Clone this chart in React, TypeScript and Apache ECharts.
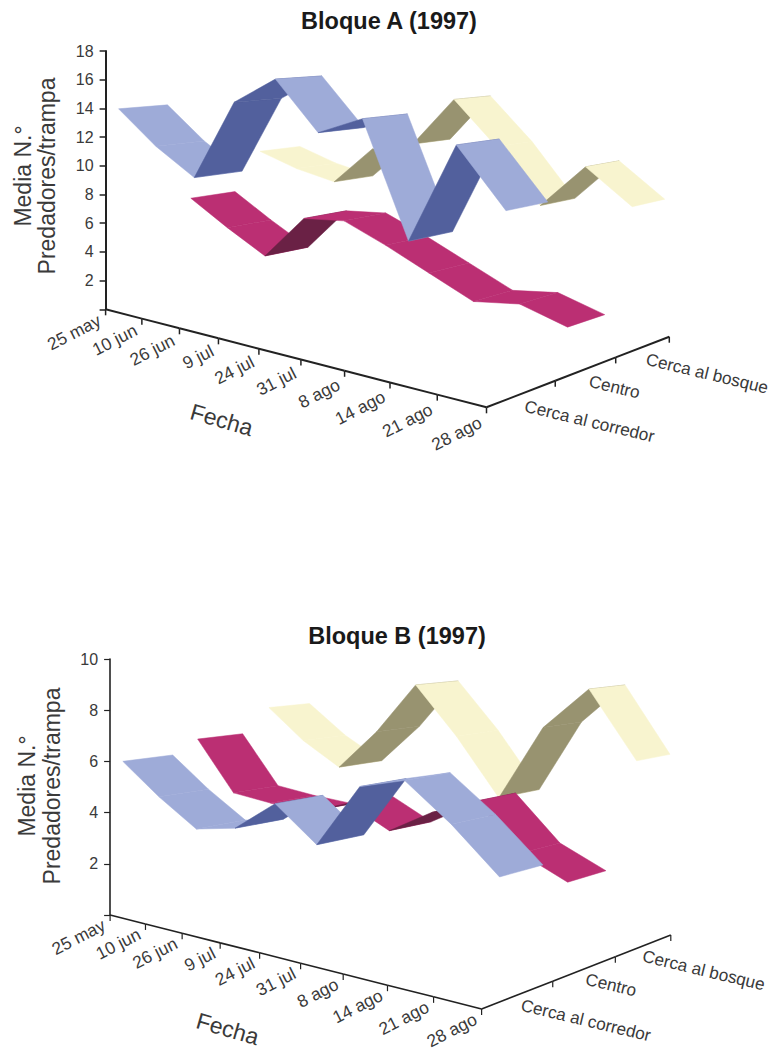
import React, { useEffect, useRef } from "react";
import * as echarts from "echarts";

const dates = ["25 may", "10 jun", "26 jun", "9 jul", "24 jul", "31 jul", "8 ago", "14 ago", "21 ago", "28 ago"];
const rows = ["Cerca al corredor", "Centro", "Cerca al bosque"];

const blockAFront = [13.9, 11.7, 10.0, 15.5, 17.4, 14.3, 15.6, 8.4, 14.8, 11.3];
const blockACenter = [6.85, 5.2, 3.7, 6.9, 7.25, 6.1, 4.8, 3.5, 3.95, 3.1];
const blockABack = [9.7, 8.8, 8.25, 11.2, 11.95, 15.6, 12.6, 8.9, 12.06, 9.8];

const blockBFront = [5.94, 4.8, 3.83, 4.14, 5.32, 4.1, 6.45, 6.91, 5.67, 4.18];
const blockBCenter = [6.47, 4.49, 4.33, 4.25, 4.84, 4.05, 5.01, 5.69, 4.06, 3.32];
const blockBBack = [7.48, 6.26, 5.35, 7.06, 9.2, 7.3, 5.05, 8.05, 9.74, 7.17];

const ticksA = 18;
const ticksB = 10;

const FONT = "'Liberation Sans', Arial, sans-serif";
const TEXT = "#3a3a3a";
const AXIS = "#222";
const rowColors = [
  { light: "#9eabd8", dark: "#52609d" },
  { light: "#bb2f73", dark: "#6a2145" },
  { light: "#f8f4cf", dark: "#989370" },
];

const makeProjection = (g: any) => {
  const wt = -0.158;
  const wd = 0.173;
  const Ux = g.C[0] * (1 + wt) - g.O[0];
  const Uy = g.C[1] * (1 + wt) - g.O[1];
  const Vx = g.E[0] * (1 + wt + wd) - g.O[0] - Ux;
  const Vy = g.E[1] * (1 + wt + wd) - g.O[1] - Uy;
  const Zy = (g.O[1] - g.topY) / g.maxV;
  return (t: number, d: number, v: number) => {
    const w = 1 + wt * t + wd * d;
    return [(g.O[0] + t * Ux + d * Vx) / w, (g.O[1] + t * Uy + d * Vy - v * Zy) / w];
  };
};

const panels = [
  {
    title: "Bloque A (1997)",
    titleX: 384,
    titleY: 4,
    O: [105.6, 309.3],
    C: [486.5, 407.3],
    E: [669.3, 336.7],
    topY: 51,
    maxV: ticksA,
    series: [blockAFront, blockACenter, blockABack],
    bands: [[0.052, 0.09, 1], [0.36, 0.398, 1], [0.687, 0.765, 1]],
    nameY: 176,
    nameX: [23, 47],
    fecha: [191, 411, -16],
    lw: 2,
    dateDrop: [10, 4],
  },
  {
    title: "Bloque B (1997)",
    titleX: 392,
    titleY: 619,
    O: [110.1, 915],
    C: [481.6, 1009],
    E: [670.8, 935],
    topY: 659,
    maxV: ticksB,
    series: [blockBFront, blockBCenter, blockBBack],
    bands: [[0.05, 0.08, 1], [0.363, 0.409, 1], [0.694, 0.79, 2]],
    nameY: 786,
    nameX: [27, 52],
    fecha: [197, 1020, -16],
    lw: 1.6,
    dateDrop: [9, 0],
  },
];

const BAND = 0.205;

const buildOption = () => {
  const series: any[] = [];
  const yAxes: any[] = [
    { type: "value", gridIndex: 0, min: 0, max: 1049, inverse: true, show: false },
  ];
  const xAxes: any[] = [{ type: "value", gridIndex: 0, min: 0, max: 770, show: false }];
  const grids: any[] = [{ left: 0, top: 0, width: 770, height: 1049 }];
  const titles: any[] = [];

  panels.forEach((p, pi) => {
    const project = makeProjection(p);
    const gi = pi + 1;
    grids.push({ left: p.O[0], top: p.topY, width: 10, height: p.O[1] - p.topY });
    xAxes.push({ type: "value", gridIndex: gi, show: false, min: 0, max: 1 });
    yAxes.push({
      type: "value",
      gridIndex: gi,
      min: 0,
      max: p.maxV,
      interval: 2,
      axisLine: { show: true, lineStyle: { color: AXIS, width: p.lw } },
      axisTick: { show: true, length: 6, lineStyle: { color: AXIS, width: p.lw * 0.75 } },
      splitLine: { show: false },
      axisLabel: {
        color: TEXT,
        fontFamily: FONT,
        fontSize: 16,
        margin: 12,
        formatter: (v: number) => (v === 0 ? "" : String(v)),
      },
    });
    titles.push({
      text: p.title,
      left: p.titleX,
      top: p.titleY,
      textAlign: "center",
      textStyle: { fontFamily: FONT, fontSize: 23.5, fontWeight: "bold", color: "#1a1a1a" },
    });
    series.push({
      type: "line",
      xAxisIndex: gi,
      yAxisIndex: gi,
      data: [],
      silent: true,
    });

    // Ribbons: back row first, each from the far date to the near date.
    [2, 1, 0].forEach((r) => {
      const values = p.series[r];
      series.push({
        type: "custom",
        name: `${p.title} ${rows[r]}`,
        xAxisIndex: 0,
        yAxisIndex: 0,
        clip: false,
        silent: true,
        data: values.slice(0, -1).map((v, i) => [i, v, values[i + 1]]),
        renderItem: (_: any, api: any) => {
          const i = api.value(0);
          const a = api.value(1);
          const b = api.value(2);
          const t0 = i / (dates.length - 1);
          const t1 = (i + 1) / (dates.length - 1);
          const [d0, d1, bow] = p.bands[r];
          const front = (t: number) => d0 + (d1 - d0) * Math.pow(t, bow);
          const back = (t: number) => d0 + (d1 - d0) * t + BAND;
          const pts = [
            project(t0, front(t0), a),
            project(t1, front(t1), b),
            project(t1, back(t1), b),
            project(t0, back(t0), a),
          ].map((q) => api.coord(q));
          let area = 0;
          pts.forEach((q: number[], k: number) => {
            const n = pts[(k + 1) % 4];
            area += q[0] * n[1] - n[0] * q[1];
          });
          const color = area < 0 ? rowColors[r].light : rowColors[r].dark;
          return {
            type: "polygon",
            shape: { points: pts },
            style: { fill: color, stroke: color, lineWidth: 0.5 },
          };
        },
      });
    });

    // Floor axes with their ticks and labels.
    const frameStyle = { stroke: AXIS, lineWidth: p.lw };
    series.push({
      type: "custom",
      name: `${p.title} fecha`,
      xAxisIndex: 0,
      yAxisIndex: 0,
      clip: false,
      silent: true,
      data: dates.map((_, i) => [i]),
      renderItem: (_: any, api: any) => {
        const i = api.value(0);
        const t = i / (dates.length - 1);
        const a = api.coord(project(t, 0, 0));
        const children: any[] = [
          { type: "line", shape: { x1: a[0], y1: a[1], x2: a[0], y2: a[1] + 6 }, style: { ...frameStyle, lineWidth: p.lw * 0.75 } },
          {
            type: "text",
            x: a[0] - 6,
            y: a[1] + p.dateDrop[0] + p.dateDrop[1] * t,
            rotation: (27 * Math.PI) / 180,
            style: { text: dates[i], align: "right", verticalAlign: "middle", fontFamily: FONT, fontSize: 17.5, fill: TEXT },
          },
        ];
        if (i < dates.length - 1) {
          const b = api.coord(project((i + 1) / (dates.length - 1), 0, 0));
          children.push({ type: "line", shape: { x1: a[0], y1: a[1], x2: b[0], y2: b[1] }, style: frameStyle });
        }
        return { type: "group", children };
      },
    });
    series.push({
      type: "custom",
      name: `${p.title} zona`,
      xAxisIndex: 0,
      yAxisIndex: 0,
      clip: false,
      silent: true,
      data: rows.map((_, i) => [i]),
      renderItem: (_: any, api: any) => {
        const i = api.value(0);
        const a = api.coord(project(1, i / 3, 0));
        const b = api.coord(project(1, (i + 1) / 3, 0));
        const m = api.coord(project(1, (i + 0.5) / 3, 0));
        return {
          type: "group",
          children: [
            { type: "line", shape: { x1: a[0], y1: a[1], x2: b[0], y2: b[1] }, style: frameStyle },
            { type: "line", shape: { x1: b[0], y1: b[1], x2: b[0], y2: b[1] + 6 }, style: { ...frameStyle, lineWidth: p.lw * 0.75 } },
            {
              type: "text",
              x: m[0] + 3 - (pi === 1 ? i * 2 : 0),
              y: m[1] + 12 - (pi === 1 ? 2 : 0),
              rotation: (-13.5 * Math.PI) / 180,
              style: { text: rows[i], align: "left", verticalAlign: "middle", fontFamily: FONT, fontSize: 17.2, fill: TEXT },
            },
          ],
        };
      },
    });
    // Axis names.
    series.push({
      type: "custom",
      name: `${p.title} nombres`,
      xAxisIndex: 0,
      yAxisIndex: 0,
      clip: false,
      silent: true,
      data: [[0]],
      renderItem: () => ({
        type: "group",
        children: [
          {
            type: "text",
            x: p.nameX[0],
            y: p.nameY,
            rotation: Math.PI / 2,
            style: { text: "Media N.°", align: "center", verticalAlign: "middle", fontFamily: FONT, fontSize: 23, fill: TEXT },
          },
          {
            type: "text",
            x: p.nameX[1],
            y: p.nameY,
            rotation: Math.PI / 2,
            style: { text: "Predadores/trampa", align: "center", verticalAlign: "middle", fontFamily: FONT, fontSize: 23, fill: TEXT },
          },
          {
            type: "text",
            x: p.fecha[0],
            y: p.fecha[1],
            rotation: (p.fecha[2] * Math.PI) / 180,
            style: { text: "Fecha", align: "left", verticalAlign: "middle", fontFamily: FONT, fontSize: 23, fill: TEXT },
          },
        ],
      }),
    });
  });

  return {
    animation: false,
    backgroundColor: "#fff",
    title: titles,
    grid: grids,
    xAxis: xAxes,
    yAxis: yAxes,
    series,
  };
};

export default function App() {
  const ref = useRef<HTMLDivElement>(null);
  useEffect(() => {
    if (!ref.current) return;
    const chart = echarts.init(ref.current, undefined, { renderer: "svg" });
    chart.setOption(buildOption() as any);
    return () => chart.dispose();
  }, []);
  return <div ref={ref} style={{ position: "absolute", left: 0, top: 0, width: 770, height: 1049 }} />;
}
